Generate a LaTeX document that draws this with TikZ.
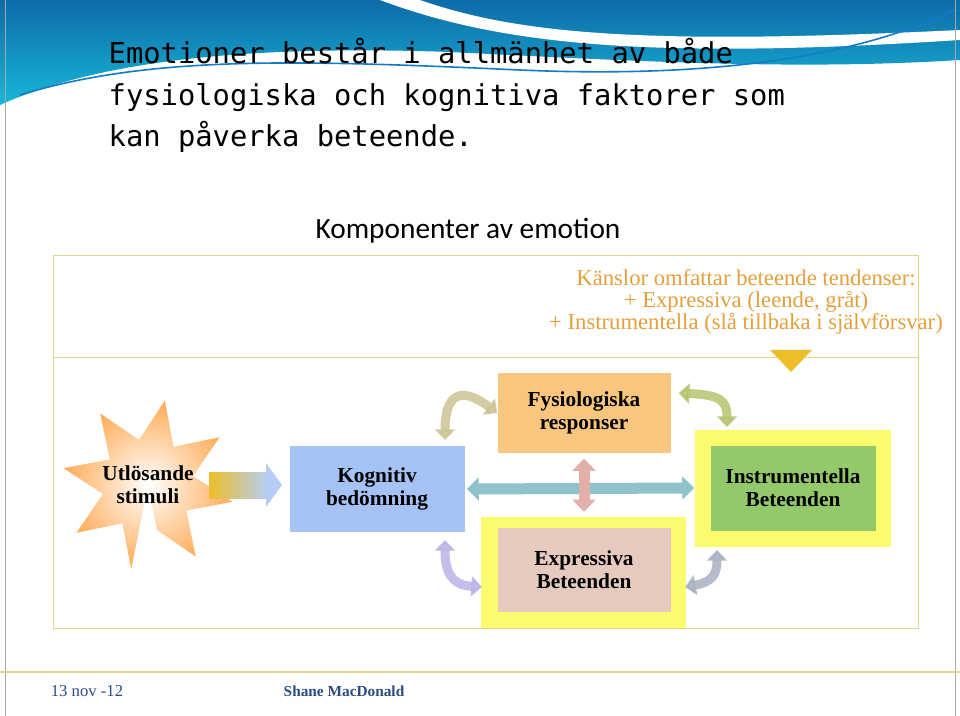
\documentclass[tikz,border=0pt]{standalone}
\usepackage{fontspec}
\setmainfont{Liberation Serif}
\newfontfamily\monofont{DejaVu Sans Mono}
\newfontfamily\headfont{Carlito}
\usetikzlibrary{calc}
\usetikzlibrary{arrows.meta}
\definecolor{kogblue}{HTML}{A4C2F4}
\definecolor{fysorange}{HTML}{F9C67F}
\definecolor{instgreen}{HTML}{93C96B}
\definecolor{exprose}{HTML}{E6CAC0}
\definecolor{frameyellow}{HTML}{FBFB6E}
\definecolor{linegold}{HTML}{E8D48A}
\definecolor{textorange}{HTML}{E3A03C}
\definecolor{arrowgold}{HTML}{EDBE2A}
\definecolor{arrowpurple}{HTML}{CC99D6}
\definecolor{arrowteal}{HTML}{7CC2A4}
\definecolor{footblue}{HTML}{2C4B84}
\definecolor{bannerdark}{HTML}{0E6BA8}
\definecolor{bannerlight}{HTML}{18B8D8}
\tikzset{
  box/.style={minimum width=173*0.75pt, minimum height=82*0.75pt, align=center, font=\bfseries\fontsize{16}{17.5}\selectfont, inner sep=0pt},
  yframe/.style={fill=frameyellow},
  dbl/.style={line width=11*0.75pt, {Triangle[length=9pt,width=17pt]}-{Triangle[length=9pt,width=17pt]}},
  curve/.style={line width=9*0.75pt, {Triangle[length=8pt,width=15pt]}-{Triangle[length=8pt,width=15pt]}, opacity=0.8},
}
\begin{document}
\begin{tikzpicture}[x=0.75pt,y=-0.75pt]

    \useasboundingbox (0,0) rectangle (960,716);
    \fill[white] (0,0) rectangle (960,716);

    % banner
    \shade[top color=bannerdark, bottom color=bannerlight] (0,0) -- (960,0) -- (960,60)
        .. controls (800,70) and (650,62) .. (450,52) .. controls (250,45) and (100,60) .. (0,105) -- cycle;
    \fill[white] (420,0) .. controls (520,35) and (650,45) .. (960,30) -- (960,40)
        .. controls (650,60) and (500,45) .. (380,0) -- cycle;
    \draw[cyan!60!blue, line width=1.2pt] (20,95) .. controls (150,55) and (300,60) .. (520,70) .. controls (700,78) and (850,60) .. (955,10);
    \draw[gray!70] (5,0) -- (5,716);
    \draw[gray!70] (955,0) -- (955,716);

    \node[anchor=north west, align=left, font=\monofont\fontsize{21.6}{31}\selectfont] (title) at (104,34)
        {Emotioner består i allmänhet av både\\fysiologiska och kognitiva faktorer som\\kan påverka beteende.};

    \node[font=\headfont\fontsize{22}{26}\selectfont] (komp) at (468,231) {Komponenter av emotion};

    % frame
    \draw[linegold] (53,255) rectangle (918,628);
    \draw[linegold] (53,357) -- (918,357);
    \draw[linegold, line width=1pt] (0,672) -- (960,672);

    \node[align=center, text=textorange, font=\fontsize{17}{16.5}\selectfont] (kanslor) at (746,302)
        {Känslor omfattar beteende tendenser:\\+ Expressiva (leende, gråt)\\+ Instrumentella (slå tillbaka i självförsvar)};
    \fill[arrowgold] (770,350) -- (812,350) -- (791,372) -- cycle;

    % star
    \shade[inner color=white, outer color=orange!65] (148,485)
        \foreach \k in {0,...,15} { \ifnum\k=0 ++(0,0) \fi
          -- ($(148,485)+({101.25+\k*22.5}:{mod(\k,2)==0 ? 86 : 46})$) } -- cycle;
    \node[box, minimum width=100*0.75pt] (stim) at (148,485) {Utlösande\\stimuli};

    \node[box, fill=kogblue, minimum width=175*0.75pt, minimum height=86*0.75pt] (kog) at (377,489) {Kognitiv\\bedömning};
    \node[box, fill=fysorange, minimum height=79*0.75pt] (fys) at (584,413) {Fysiologiska\\responser};
    \fill[yframe] (695,430) rectangle (891,547);
    \node[box, fill=instgreen, minimum width=165*0.75pt, minimum height=85*0.75pt] (inst) at (793,488) {Instrumentella\\Beteenden};
    \fill[yframe] (481,517) rectangle (686,628);
    \node[box, fill=exprose, minimum height=84*0.75pt] (expr) at (584,570) {Expressiva\\Beteenden};

    % arrows
    \shade[left color=arrowgold, right color=kogblue!80] (209,472) rectangle (268,498);
    \fill[kogblue!80] (266,463) -- (282,485) -- (266,507) -- cycle;
    \draw[dbl, draw=kogblue!50!arrowteal] (kog.east) ++(2,0) -- ($(inst.west)+(-16,0)$);
    \draw[dbl, draw=fysorange!50!arrowpurple] (fys.south) ++(0,6) -- ($(expr.north)+(0,-16)$);
    \draw[curve, draw=kogblue!50!arrowgold] (445,440) .. controls (445,395) and (460,385) .. (fys.west);
    \draw[curve, draw=arrowgold!50!arrowteal] (fys.east) ++(8,-20) .. controls (720,395) and (727,400) .. (727,427);
    \draw[curve, draw=kogblue!50!arrowpurple] (445,540) .. controls (445,570) and (450,585) .. (482,587);
    \draw[curve, draw=arrowteal!50!arrowpurple] (717,550) .. controls (717,575) and (712,582) .. (685,587);

    % footer
    \node[text=footblue, font=\fontsize{12.5}{14}\selectfont] (date) at (87,691) {13 nov -12};
    \node[text=footblue, font=\bfseries\fontsize{11.5}{13}\selectfont] (author) at (344,691) {Shane MacDonald};

\end{tikzpicture}
\end{document}
